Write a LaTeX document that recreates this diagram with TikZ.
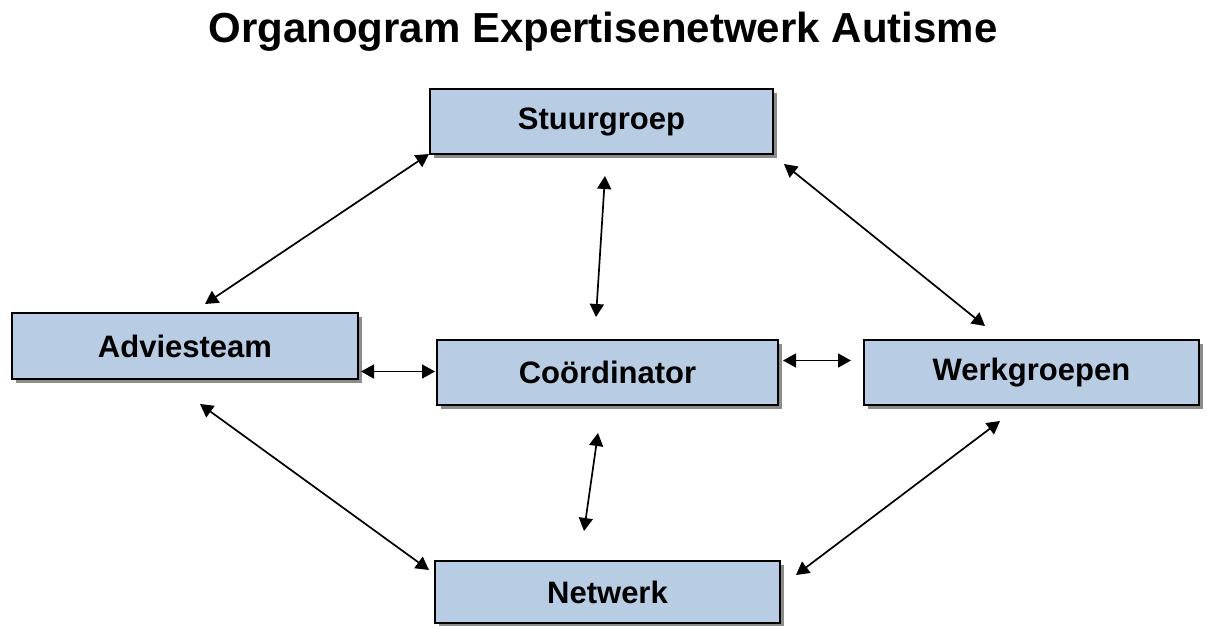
\documentclass[tikz,border=0pt]{standalone}
\usepackage{fontspec}
\setmainfont{Liberation Sans}
\usetikzlibrary{arrows.meta,shadows,calc}
\definecolor{boxfill}{HTML}{B8CCE4}
\tikzset{
  orgbox/.style={draw=black, line width=2pt, fill=boxfill, rectangle, inner sep=0pt,
    font=\fontsize{31}{36}\selectfont\bfseries,
    drop shadow={shadow xshift=4pt, shadow yshift=-4pt, fill=gray!90, opacity=1}},
  link/.style={line width=1.7pt, {Triangle[length=13pt,width=14pt]}-{Triangle[length=13pt,width=14pt]}}
}
\begin{document}
\begin{tikzpicture}[x=1pt,y=-1pt]
\useasboundingbox (0,0) rectangle (1207,625);
\node[font=\fontsize{42}{50}\selectfont\bfseries, anchor=base] (title) at (603,42) {Organogram Expertisenetwerk Autisme};
\node[orgbox, minimum width=343pt, minimum height=65pt] (stuur) at (601.5,121.5) {Stuurgroep};
\node[orgbox, minimum width=346pt, minimum height=66pt] (advies) at (185,346) {Adviesteam};
\node[orgbox, minimum width=341pt, minimum height=65pt] (coord) at (607.5,372.5) {Coördinator};
\node[orgbox, minimum width=335pt, minimum height=65pt] (werk) at (1031.5,372.5) {Werkgroepen};
\node[orgbox, minimum width=345pt, minimum height=62pt] (netw) at (607.5,592) {Netwerk};
\draw[link] ($(stuur.south west)+(0,-1)$) -- ($(advies.north)+(20,-8)$);
\draw[link] ($(stuur.south)+(3.5,21)$) -- ($(coord.north)+(-11.5,-22)$);
\draw[link] ($(stuur.south east)+(10,9)$) -- ($(werk.north)+(-46.5,-13)$);
\draw[link] ($(advies.east|-coord.west)+(2,-1)$) -- ($(coord.west)+(-1,-1)$);
\draw[link] ($(coord.east)+(4,-12)$) -- ($(werk.west)+(-12,-12)$);
\draw[link] ($(coord.south)+(-9.5,27)$) -- ($(netw.north)+(-23.5,-29)$);
\draw[link] ($(advies.south)+(15,24)$) -- ($(netw.west)+(-5,-22)$);
\draw[link] ($(werk.south)+(-31.5,15)$) -- ($(netw.east)+(15,-17)$);
\end{tikzpicture}
\end{document}
